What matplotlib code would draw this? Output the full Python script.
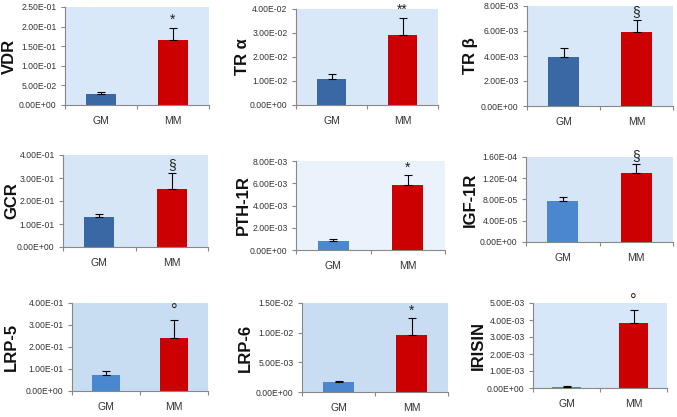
import matplotlib
matplotlib.use("Agg")
import matplotlib.pyplot as plt
from matplotlib.ticker import FuncFormatter, MultipleLocator

plt.rcParams['font.family'] = ['Liberation Sans', 'DejaVu Sans']

groups = ["GM", "MM"]
genes = ["VDR", "TR α", "TR β", "GCR", "PTH-1R", "IGF-1R", "LRP-5", "LRP-6", "IRISIN"]
gm_mean = [0.028, 0.0110, 0.0039, 0.130, 0.00080, 7.8e-5, 0.072, 0.0017, 0.00003]
gm_err = [0.005, 0.0020, 0.0007, 0.013, 0.00020, 0.7e-5, 0.018, 0.0001, 0.00007]
mm_mean = [0.165, 0.0293, 0.0059, 0.253, 0.00580, 1.30e-4, 0.240, 0.0096, 0.0038]
mm_err = [0.032, 0.0070, 0.0010, 0.067, 0.00090, 0.17e-4, 0.085, 0.0028, 0.0008]
signif = ["*", "**", "§", "§", "*", "§", "°", "*", "°"]
ymax = [0.25, 0.04, 0.008, 0.4, 0.008, 1.6e-4, 0.4, 0.015, 0.005]
ystep = [0.05, 0.01, 0.002, 0.1, 0.002, 4e-5, 0.1, 0.005, 0.001]

W, H = 677, 417
# axes boxes in pixels: left, right, top, bottom, and y-label right edge
boxes = [
    (65, 209, 7, 105, 17), (296, 438, 9, 105, 250), (527, 673, 6, 106, 478),
    (63, 208, 155, 247, 19), (296, 445, 161, 250, 251), (526, 673, 157, 242, 478),
    (72, 208, 303, 391, 19), (302, 448, 303, 392, 253), (533, 667, 303, 388, 486),
]
dark_blue = "#3a68a4"
light_blue = "#4a87cf"
gm_colors = [dark_blue, dark_blue, dark_blue, dark_blue, light_blue, light_blue,
             light_blue, light_blue, light_blue]
bg_colors = ["#d9e8f8", "#d9e8f8", "#d9e8f8", "#d6e6f7", "#eaf3fc", "#d6e6f7",
             "#c9ddf2", "#c9ddf2", "#d6e7f9"]
red = "#cc0000"

fig = plt.figure(figsize=(W / 100, H / 100), dpi=100)
fmt = FuncFormatter(lambda v, p: "{:.2E}".format(v))

for i, gene in enumerate(genes):
    L, R, T, B, lx = boxes[i]
    ax = fig.add_axes([L / W, 1 - B / H, (R - L) / W, (B - T) / H])
    ax.set_facecolor(bg_colors[i])
    vals = [gm_mean[i], mm_mean[i]]
    errs = [gm_err[i], mm_err[i]]
    ax.bar([0, 1], vals, width=0.42, color=[gm_colors[i], red], zorder=2)
    ax.errorbar([0, 1], vals, yerr=[[0, 0], errs], fmt="none", ecolor="black",
                elinewidth=0.8, capsize=3, capthick=0.8, zorder=3)
    top = mm_mean[i] + mm_err[i]
    ax.text(1, top + ymax[i] * 0.01, signif[i], ha="center", va="bottom",
            fontsize=10 if signif[i] != "°" else 12, color="#222222", zorder=4)
    ax.set_xlim(-0.5, 1.5)
    ax.set_ylim(0, ymax[i])
    ax.yaxis.set_major_locator(MultipleLocator(ystep[i]))
    ax.yaxis.set_major_formatter(fmt)
    ax.set_xticks([0, 1])
    ax.set_xticklabels(groups, fontsize=7.5, color="#333333")
    ax.set_xticks([-0.5, 0.5, 1.5], minor=True)
    ax.tick_params(axis="x", which="major", length=0, pad=8)
    ax.tick_params(axis="x", which="minor", length=3, color="#888888", width=0.8)
    ax.tick_params(axis="y", length=3, color="#888888", width=0.8, labelsize=6.2,
                   labelcolor="#333333", pad=3)
    for s in ["top", "right"]:
        ax.spines[s].set_visible(False)
    for s in ["left", "bottom"]:
        ax.spines[s].set_color("#888888")
        ax.spines[s].set_linewidth(0.8)
    ax.set_ylabel(gene, fontsize=12, fontweight="bold", color="#111111")
    ax.yaxis.set_label_coords((lx - L) / (R - L), 0.5)

fig.savefig("out.png", dpi=100)
